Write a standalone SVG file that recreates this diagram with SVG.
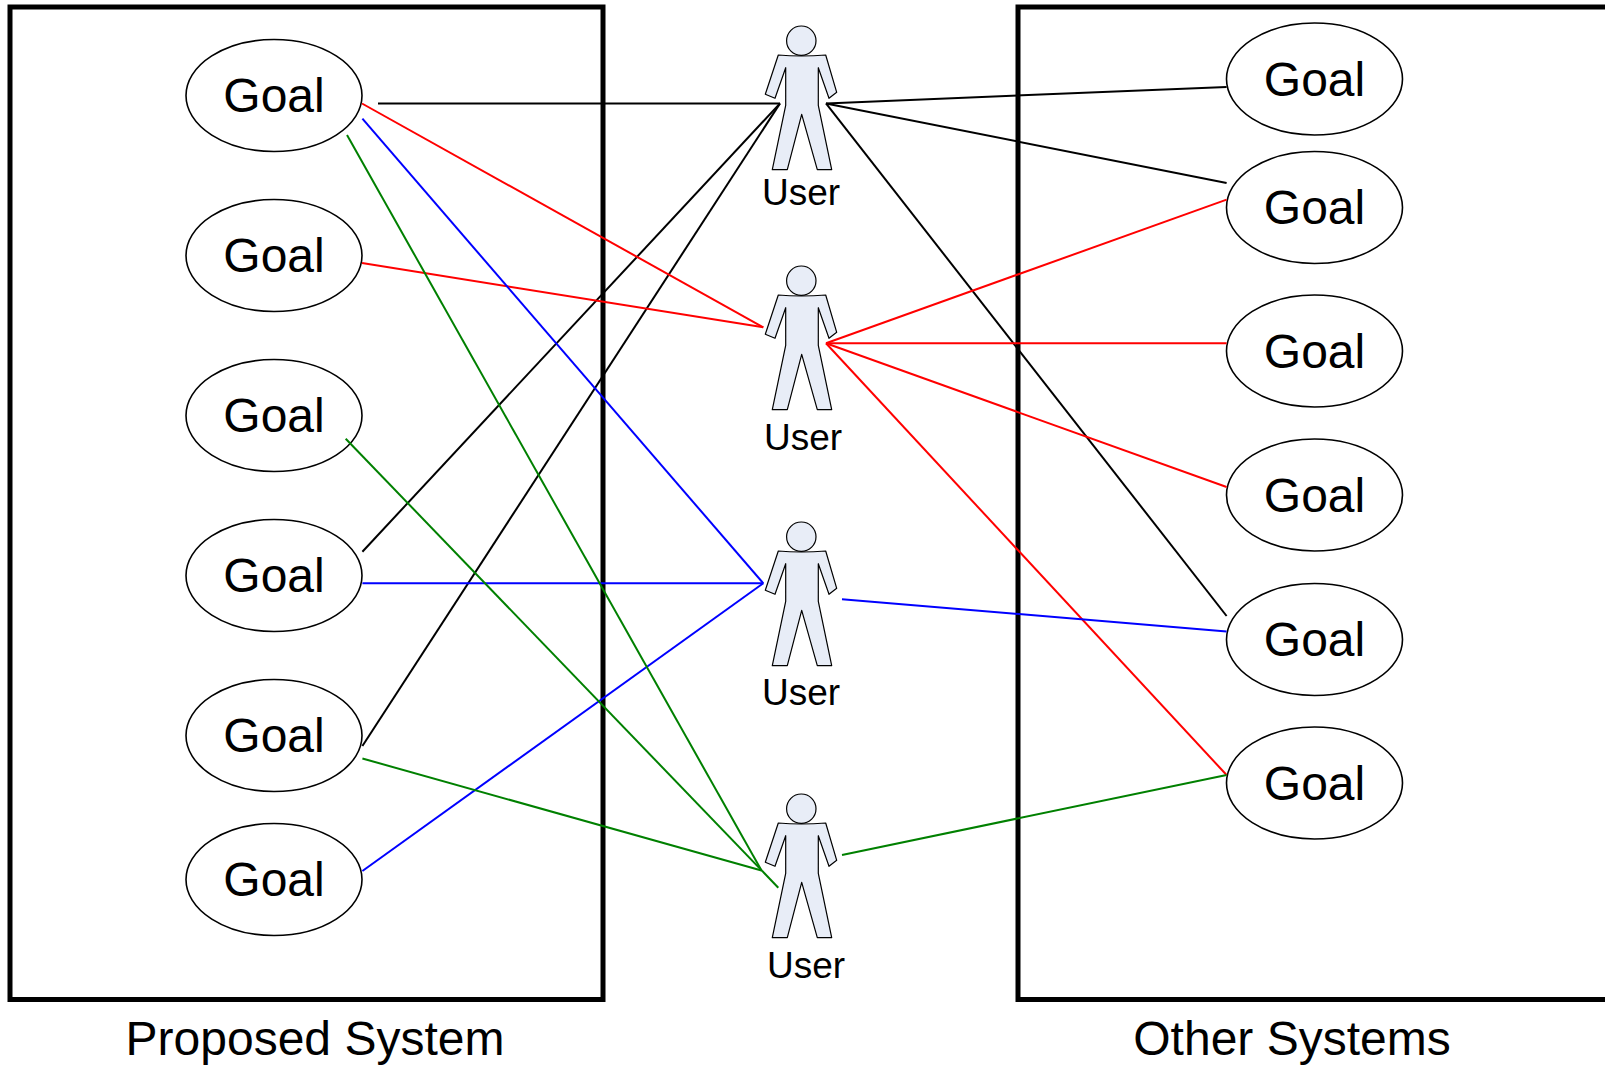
<svg xmlns="http://www.w3.org/2000/svg" width="1605" height="1067" viewBox="0 0 1605 1067">
<style>
text{font-family:"Liberation Sans",Arial,sans-serif;fill:#000;text-anchor:middle}
.box{fill:none;stroke:#000;stroke-width:5}
.goal-e{fill:#fff;stroke:#000;stroke-width:1.6}
.goal-t{font-size:48px}
.user text{font-size:37px}
.cap{font-size:48px}
.body{fill:#e8edf7;stroke:#000;stroke-width:1.2;stroke-linejoin:round}
#connectors line{stroke-width:2;fill:none}
.k line{stroke:#000}.r line{stroke:#f00}.b line{stroke:#00f}.g line{stroke:#008000}
</style>
<defs>
<g id="person">
<circle class="body" cx="801.300" cy="40.700" r="14.700"/>
<path class="body" d="M778.300 55Q801 57 825.700 55L836.700 92.300L829 98.300L818.300 67.700L818.300 105.300L831.700 169.700L817.300 169.700L801.700 114.300L787.300 169.700L772.300 169.700L785.700 105.300L785.700 67.700L775 98.300L765.300 94.300Z"/>
</g>
<g id="goal-shape"><ellipse class="goal-e" cx="0" cy="0" rx="88" ry="56"/><text class="goal-t" x="0" y="16.500">Goal</text></g>
</defs>
<g id="system-boundaries">
<rect id="proposed-system" class="box" x="10" y="7" width="593" height="992.500"/>
<rect id="other-systems" class="box" x="1018" y="7" width="600" height="992.500"/>
<text class="cap" x="315" y="1055">Proposed System</text>
<text class="cap" x="1292" y="1055">Other Systems</text>
</g>
<g id="goal-l1" transform="translate(274 95.500)"><use href="#goal-shape"/></g>
<g id="goal-l2" transform="translate(274 255.500)"><use href="#goal-shape"/></g>
<g id="goal-l3" transform="translate(274 415.500)"><use href="#goal-shape"/></g>
<g id="goal-l4" transform="translate(274 575.500)"><use href="#goal-shape"/></g>
<g id="goal-l5" transform="translate(274 735.500)"><use href="#goal-shape"/></g>
<g id="goal-l6" transform="translate(274 879.500)"><use href="#goal-shape"/></g>
<g id="goal-r1" transform="translate(1314.500 79)"><use href="#goal-shape"/></g>
<g id="goal-r2" transform="translate(1314.500 207.500)"><use href="#goal-shape"/></g>
<g id="goal-r3" transform="translate(1314.500 351)"><use href="#goal-shape"/></g>
<g id="goal-r4" transform="translate(1314.500 495)"><use href="#goal-shape"/></g>
<g id="goal-r5" transform="translate(1314.500 639.500)"><use href="#goal-shape"/></g>
<g id="goal-r6" transform="translate(1314.500 783)"><use href="#goal-shape"/></g>
<g id="user-1" class="user"><use href="#person"/><text x="801" y="205">User</text></g>
<g id="user-2" class="user"><use href="#person" y="240"/><text x="803" y="450">User</text></g>
<g id="user-3" class="user"><use href="#person" y="496"/><text x="801" y="705">User</text></g>
<g id="user-4" class="user"><use href="#person" y="768"/><text x="806" y="977.500">User</text></g>
<g id="connectors">
<g class="k">
<line x1="378" y1="103.400" x2="780" y2="103.400"/>
<line x1="362.400" y1="551.700" x2="780" y2="103.400"/>
<line x1="362.400" y1="746" x2="780" y2="103.400"/>
<line x1="826" y1="103.400" x2="1226.600" y2="87"/>
<line x1="826" y1="103.400" x2="1226.600" y2="183"/>
<line x1="826" y1="103.400" x2="1226.600" y2="616"/>
</g>
<g class="r">
<line x1="362" y1="103.500" x2="763.300" y2="327.300"/>
<line x1="362" y1="263" x2="763.300" y2="327.300"/>
<line x1="826" y1="343.300" x2="1226.600" y2="199.600"/>
<line x1="826" y1="343.300" x2="1226.600" y2="343.300"/>
<line x1="826" y1="343.300" x2="1226.600" y2="487"/>
<line x1="826" y1="343.300" x2="1226.600" y2="775"/>
</g>
<g class="b">
<line x1="362.400" y1="118.700" x2="763.300" y2="583.300"/>
<line x1="362.400" y1="583.300" x2="763.300" y2="583.300"/>
<line x1="362.400" y1="871" x2="763.300" y2="583.300"/>
<line x1="842" y1="599.300" x2="1226.600" y2="631.500"/>
</g>
<g class="g">
<line x1="347" y1="135" x2="761.500" y2="870.500"/>
<line x1="345.700" y1="438.700" x2="778.300" y2="887.700"/>
<line x1="362.400" y1="758.500" x2="761.500" y2="870.500"/>
<line x1="842" y1="855" x2="1226.600" y2="775"/>
</g>
</g>
</svg>
